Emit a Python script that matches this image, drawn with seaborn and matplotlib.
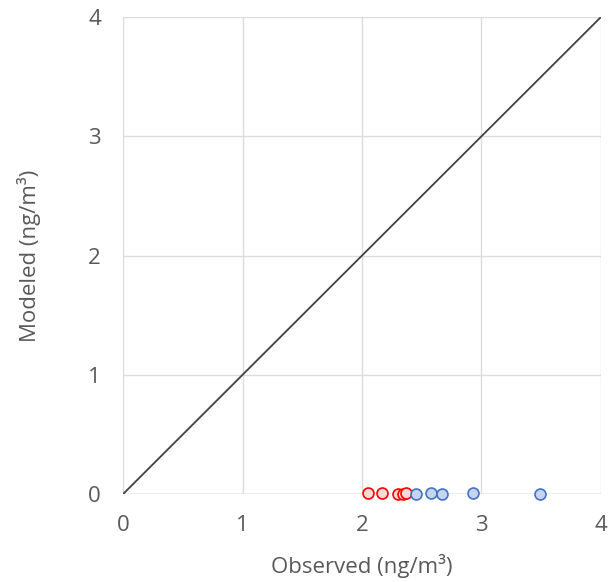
import numpy as np
import pandas as pd
import matplotlib
matplotlib.use("Agg")
import matplotlib.pyplot as plt
import seaborn as sns

# Dados
red_obs = [2.05, 2.165, 2.30, 2.34, 2.37]
red_mod = [0.011, 0.011, 0.0, 0.005, 0.011]
blue_obs = [2.45, 2.58, 2.67, 2.93, 3.49]
blue_mod = [0.0, 0.011, 0.0, 0.011, 0.0]
one_to_one = [0, 4]
ticks = [0, 1, 2, 3, 4]

df = pd.DataFrame({
    "obs": red_obs + blue_obs,
    "mod": red_mod + blue_mod,
    "grupo": ["red"] * len(red_obs) + ["blue"] * len(blue_obs),
})

sns.set_style("white")
plt.rcParams["font.family"] = ["Open Sans", "DejaVu Sans"]

fig = plt.figure(figsize=(6.16, 5.82), dpi=100)
ax = fig.add_axes([0.1997, 0.151, 0.7759, 0.8198])

sns.lineplot(x=one_to_one, y=one_to_one, ax=ax, color="#404040", lw=1.3, zorder=2)

face = {"red": "#fadad7", "blue": "#c5d5ef"}
edge = {"red": "#ff0000", "blue": "#4472c4"}
for g in ["red", "blue"]:
    sub = df[df["grupo"] == g]
    sns.scatterplot(data=sub, x="obs", y="mod", ax=ax, s=62,
                    color=face[g], edgecolor=edge[g], linewidth=1.2, zorder=3)

ax.set_xlim(0, 4)
ax.set_ylim(0, 4)
ax.set_xticks(ticks)
ax.set_yticks(ticks)
ax.grid(True, color="#dcdcdc", lw=1)
for s in ax.spines.values():
    s.set_visible(False)
ax.axhline(0, color="#bfbfbf", lw=1, zorder=1)
ax.tick_params(length=0, labelsize=16, labelcolor="#595959", pad=15)
ax.tick_params(axis="y", pad=16)
ax.set_xlabel("Observed (ng/m³)", fontsize=16, color="#595959", labelpad=13)
ax.set_ylabel("Modeled (ng/m³)", fontsize=16, color="#595959", labelpad=34)
for c in ax.collections:
    c.set_clip_on(False)

fig.savefig("out.png", dpi=100)
